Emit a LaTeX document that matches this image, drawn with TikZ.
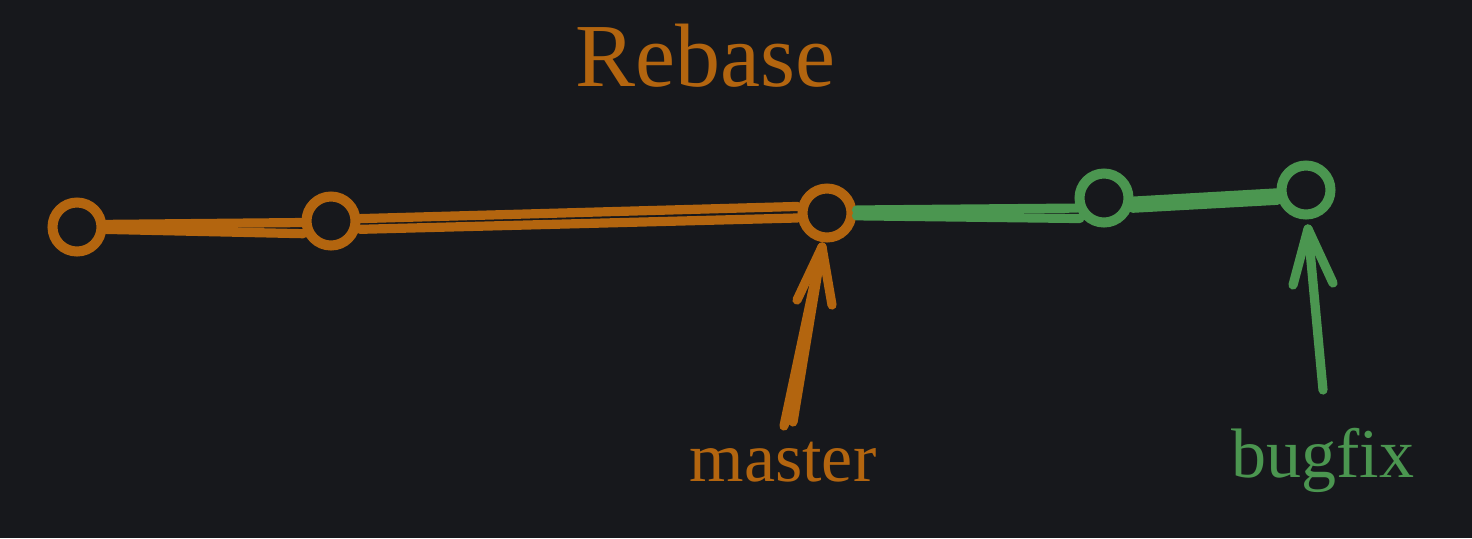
\documentclass[tikz,border=0pt]{standalone}
\usepackage{fontspec}
\setmainfont{Liberation Serif}
\definecolor{bg}{HTML}{17181C}
\definecolor{gitorange}{HTML}{B3650F}
\definecolor{gitgreen}{HTML}{4B9650}
\begin{document}
\begin{tikzpicture}[x=0.5pt,y=-0.5pt,
  commit/.style={circle,draw=#1,line width=5pt,minimum size=24.5pt,inner sep=0pt},
  edge/.style={draw=#1,line width=4.6pt,line cap=round},
  pointer/.style={draw=#1,line width=4.6pt,line cap=round,line join=round},
  label/.style={text=#1,anchor=base,inner sep=0pt,font=\fontsize{35}{40}\selectfont},
  title/.style={text=#1,anchor=base,inner sep=0pt,font=\fontsize{45}{52}\selectfont}]
\fill[bg] (0,0) rectangle (1472,538);
\useasboundingbox (0,0) rectangle (1472,538);
% commits
\node[commit=gitorange] (c1) at (77,227) {};
\node[commit=gitorange] (c2) at (331,221) {};
\node[commit=gitorange] (c3) at (827,213) {};
\node[commit=gitgreen] (c4) at (1104,198) {};
\node[commit=gitgreen] (c5) at (1306,190) {};
% edges (double sketch strokes)
\draw[edge=gitorange] ([yshift=1.3pt]c1.east) -- ([yshift=1.8pt]c2.190);
\draw[edge=gitorange] ([yshift=-1.2pt]c1.east) -- ([yshift=-1.3pt]c2.200);
\draw[edge=gitorange] ([yshift=1.2pt]c2.east) -- ([yshift=2pt]c3.175);
\draw[edge=gitorange] ([yshift=-1.6pt]c2.350) -- ([yshift=-1.2pt]c3.185);
\draw[edge=gitgreen] ([yshift=1.5pt]c3.east) -- ([yshift=1.2pt]c4.205);
\draw[edge=gitgreen] ([yshift=-1.4pt]c3.east) -- ([yshift=-1.8pt]c4.215);
\draw[edge=gitgreen] ([yshift=1pt]c4.350) -- ([yshift=0.6pt]c5.188);
\draw[edge=gitgreen] ([yshift=-1.3pt]c4.345) -- ([yshift=-1.3pt]c5.195);
% texts
\node[title=gitorange] (rebase) at (705,86) {Rebase};
\node[label=gitorange] (master) at (783,481) {master};
\node[label=gitgreen] (bugfix) at (1323,477) {bugfix};
% pointers
\coordinate (mtail) at (784,426);
\coordinate (mtail2) at (793,422);
\coordinate (mtip) at (822,247);
\coordinate (mleft) at (797,300);
\coordinate (mright) at (832,305);
\draw[pointer=gitorange] (mtail) -- (mtip);
\draw[pointer=gitorange] (mtail2) -- (mtip);
\draw[pointer=gitorange] (mleft) -- (mtip) -- (mright);
\coordinate (btail) at (1323,390);
\coordinate (btip) at (1308,229);
\coordinate (bleft) at (1293,285);
\coordinate (bright) at (1333,283);
\draw[pointer=gitgreen] (btail) -- (btip);
\draw[pointer=gitgreen] (bleft) -- (btip) -- (bright);
\end{tikzpicture}
\end{document}
